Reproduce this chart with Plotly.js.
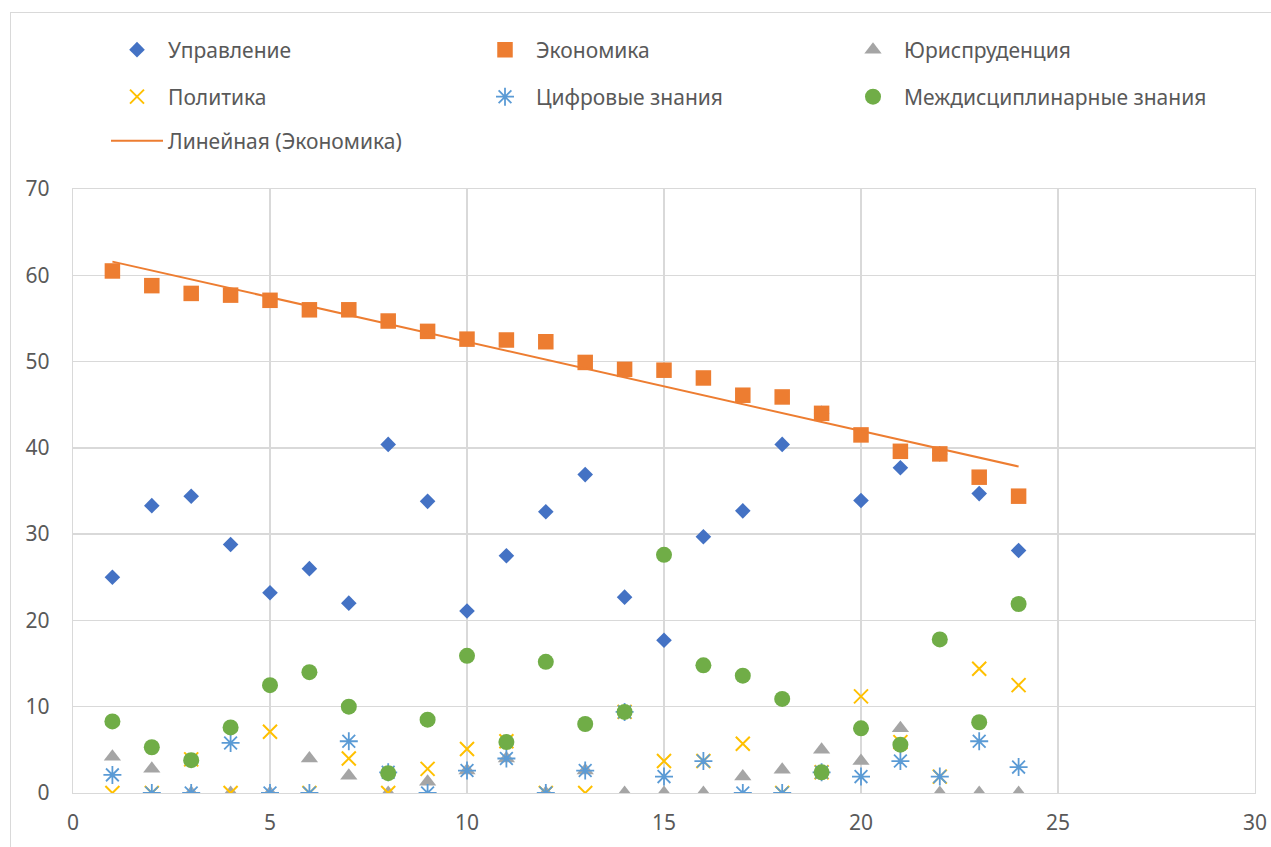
<!DOCTYPE html>
<html>
<head>
<meta charset="utf-8">
<script src="https://cdn.plot.ly/plotly-3.0.1.min.js"></script>
<style>
  html, body { margin: 0; padding: 0; background: #fff; overflow: hidden; }
  #frame { position: absolute; left: 10px; top: 12px; width: 1300px; height: 900px; border: 1px solid #D9D9D9; box-sizing: border-box; }
  #chart { position: absolute; left: 0; top: 0; width: 1271px; height: 847px; }
</style>
</head>
<body>
<div id="frame"></div>
<div id="chart"></div>
<script>
const xs = [1,2,3,4,5,6,7,8,9,10,11,12,13,14,15,16,17,18,19,20,21,22,23,24];
const management   = [25.0,33.3,34.4,28.8,23.2,26.0,22.0,40.4,33.8,21.1,27.5,32.6,36.9,22.7,17.7,29.7,32.7,40.4,44.0,33.9,37.7,39.3,34.7,28.1];
const economics    = [60.5,58.8,57.9,57.7,57.1,56.0,56.0,54.7,53.5,52.6,52.5,52.3,49.9,49.1,49.0,48.1,46.1,45.9,44.0,41.5,39.6,39.3,36.6,34.4];
const law          = [4.2,2.8,0,0,0,4.0,2.0,0,1.3,2.6,4.0,0,2.6,0,0,0,1.9,2.7,5.0,3.7,7.5,0,0,0];
const politics     = [0,0,3.9,0,7.1,0,4.0,0,2.8,5.1,6.0,0,0,9.4,3.7,3.7,5.7,0,2.4,11.2,5.9,1.9,14.4,12.5];
const digital      = [2.1,0,0,5.8,0,0,6.0,2.4,0,2.6,4.0,0,2.6,9.4,1.9,3.7,0,0,2.4,1.9,3.7,1.9,6.0,3.0];
const interdisc    = [8.3,5.3,3.8,7.6,12.5,14.0,10.0,2.3,8.5,15.9,5.9,15.2,8.0,9.4,27.6,14.8,13.6,10.9,2.4,7.5,5.6,17.8,8.2,21.9];
const names = ['Управление','Экономика','Юриспруденция','Политика','Цифровые знания','Междисциплинарные знания','Линейная (Экономика)'];
const xTicks = [0,5,10,15,20,25,30];
const yTicks = [0,10,20,30,40,50,60,70];

// least-squares trendline of Экономика
const n = xs.length;
const mx = xs.reduce((a,b)=>a+b,0)/n, my = economics.reduce((a,b)=>a+b,0)/n;
let sxy = 0, sxx = 0;
for (let i=0;i<n;i++){ sxy += (xs[i]-mx)*(economics[i]-my); sxx += (xs[i]-mx)**2; }
const slope = sxy/sxx, icpt = my - slope*mx;
const trendX = [xs[0], xs[n-1]];
const trendY = trendX.map(v => icpt + slope*v);

const traces = [
  {x: xs, y: management, name: names[0], mode: 'markers', type: 'scatter', legend: 'legend',
   marker: {symbol: 'diamond', size: 12, color: '#4472C4'}},
  {x: xs, y: economics, name: names[1], mode: 'markers', type: 'scatter', legend: 'legend',
   marker: {symbol: 'square', size: 15.5, color: '#ED7D31'}},
  {x: xs, y: law, name: names[2], mode: 'markers', type: 'scatter', legend: 'legend',
   marker: {symbol: 'triangle-up', size: 15, color: '#A5A5A5'}},
  {x: xs, y: politics, name: names[3], mode: 'markers', type: 'scatter', legend: 'legend2',
   marker: {symbol: 'x-thin-open', size: 14, color: '#FFC000', line: {color: '#FFC000', width: 2}}},
  {x: xs, y: digital, name: names[4], mode: 'markers', type: 'scatter', legend: 'legend2',
   marker: {symbol: 'asterisk-open', size: 15, color: '#5B9BD5', line: {color: '#5B9BD5', width: 1.8}}},
  {x: xs, y: interdisc, name: names[5], mode: 'markers', type: 'scatter', legend: 'legend2',
   marker: {symbol: 'circle', size: 16, color: '#70AD47'}},
  {x: trendX, y: trendY, name: names[6], mode: 'lines', type: 'scatter', legend: 'legend3',
   line: {color: '#ED7D31', width: 2}}
];

const fontFam = 'Noto Sans, Open Sans, sans-serif';
const legendBase = {
  orientation: 'h', entrywidth: 301, entrywidthmode: 'pixels', itemwidth: 52,
  font: {family: fontFam, size: 21, color: '#595959'},
  bgcolor: 'rgba(0,0,0,0)', xanchor: 'left', yanchor: 'middle', x: (106-73)/1182
};

const layout = {
  width: 1271, height: 847,
  margin: {l: 73, r: 16, t: 189, b: 54},
  paper_bgcolor: 'rgba(0,0,0,0)', plot_bgcolor: '#ffffff',
  font: {family: fontFam, size: 21, color: '#595959'},
  showlegend: true,
  legend:  Object.assign({}, legendBase, {y: (793-50)/604}),
  legend2: Object.assign({}, legendBase, {y: (793-97)/604}),
  legend3: Object.assign({}, legendBase, {y: (793-141)/604}),
  xaxis: {range: [0, 30], tickvals: xTicks, ticktext: xTicks.map(String), showgrid: true, gridcolor: '#D9D9D9', gridwidth: 1.3,
          zeroline: false, showline: true, linecolor: '#D9D9D9', linewidth: 1.3, mirror: true, ticks: '', ticklabelstandoff: 10,
          tickfont: {family: fontFam, size: 21, color: '#595959'}},
  yaxis: {range: [0, 70], tickvals: yTicks, ticktext: yTicks.map(String), showgrid: true, gridcolor: '#D9D9D9', gridwidth: 1.3,
          zeroline: false, showline: true, linecolor: '#D9D9D9', linewidth: 1.3, mirror: true, ticks: '', ticklabelstandoff: 18,
          tickfont: {family: fontFam, size: 21, color: '#595959'}}
};

Plotly.newPlot('chart', traces, layout, {displayModeBar: false, staticPlot: true});
</script>
</body>
</html>
